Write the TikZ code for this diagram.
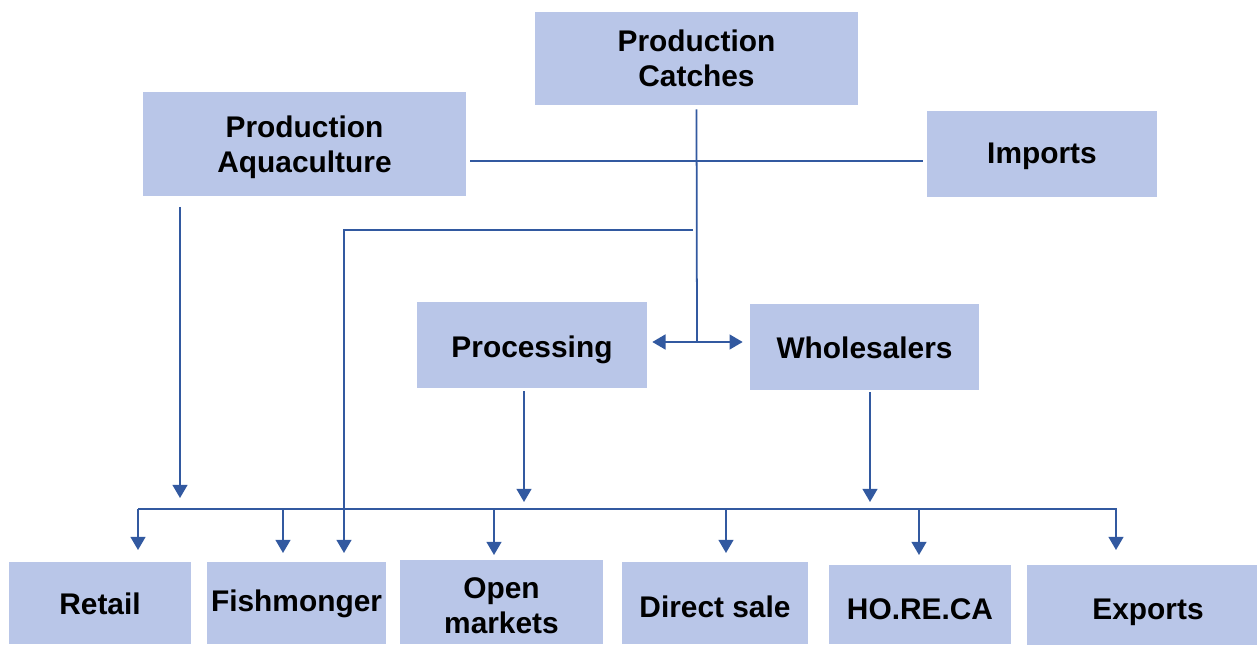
\documentclass[tikz,border=0pt]{standalone}
\usepackage{fontspec}
\setmainfont{Liberation Sans}
\usetikzlibrary{arrows.meta}
\definecolor{boxc}{HTML}{B9C6E8}
\definecolor{linec}{HTML}{3259A0}
\begin{document}
\begin{tikzpicture}[x=0.02cm,y=-0.02cm,
  box/.style={fill=boxc, draw=none, inner sep=0pt},
  lbl/.style={font=\bfseries\fontsize{17}{19.8}\selectfont, align=center, inner sep=0pt},
  conn/.style={draw=linec, line width=1pt},
  arr/.style={conn, -{Triangle[width=8.5pt,length=7.5pt]}},
  darr/.style={conn, {Triangle[width=8.5pt,length=7.5pt]}-{Triangle[width=8.5pt,length=7.5pt]}}]
\useasboundingbox (0,0) rectangle (1258,645);
% boxes
\node[box, minimum width=6.46cm, minimum height=1.86cm] (catch) at (696.5,58.5) {};
\node[box, minimum width=6.46cm, minimum height=2.08cm] (aqua) at (304.5,144) {};
\node[box, minimum width=4.6cm, minimum height=1.72cm] (imp) at (1042,154) {};
\node[box, minimum width=4.6cm, minimum height=1.72cm] (proc) at (532,345) {};
\node[box, minimum width=4.58cm, minimum height=1.72cm] (whole) at (864.5,347) {};
\node[box, minimum width=3.64cm, minimum height=1.64cm] (retail) at (100,603) {};
\node[box, minimum width=3.58cm, minimum height=1.64cm] (fish) at (296.5,603) {};
\node[box, minimum width=4.06cm, minimum height=1.68cm] (open) at (501.5,602) {};
\node[box, minimum width=3.72cm, minimum height=1.64cm] (direct) at (715,603) {};
\node[box, minimum width=3.64cm, minimum height=1.58cm] (horeca) at (920,604.5) {};
\node[box, minimum width=4.6cm, minimum height=1.6cm] (exp) at (1142,605) {};
% texts
\node[lbl] (catchT) at (catch.center) {Production\\Catches};
\node[lbl] (aquaT) at ([yshift=-0.06cm]aqua.center) {Production\\Aquaculture};
\node[lbl] (impT) at ([yshift=-0.04cm]imp.center) {Imports};
\node[lbl] (procT) at ([yshift=-0.09cm]proc.center) {Processing};
\node[lbl] (wholeT) at ([yshift=-0.02cm]whole.center) {Wholesalers};
\node[lbl] (retailT) at ([yshift=-0.02cm]retail.center) {Retail};
\node[lbl] (fishT) at ([yshift=-0.02cm]fish.center) {Fishmonger};
\node[lbl] (openT) at ([yshift=-0.08cm]open.center) {Open\\markets};
\node[lbl] (directT) at ([yshift=-0.08cm]direct.center) {Direct sale};
\node[lbl] (horecaT) at ([yshift=-0.1cm]horeca.center) {HO.RE.CA};
\node[lbl] (expT) at ([xshift=0.12cm,yshift=-0.14cm]exp.center) {Exports};
% junction coordinates
\coordinate (hl) at (697,161);
\coordinate (mid) at (697,342);
\coordinate (fa) at (693,230);
\coordinate (fc) at (344,230);
\coordinate (ft) at (344,553);
\coordinate (aqs) at (180,207);
\coordinate (aqt) at (180,498);
\coordinate (prs) at (524,391);
\coordinate (prt) at (524,502);
\coordinate (whs) at (870,392);
\coordinate (wht) at (870,502);
\coordinate (bL) at (138,509);
\coordinate (bR) at (1116,510);
% connectors
\draw[conn] ([xshift=0.08cm]aqua.east |- hl) -- ([xshift=-0.08cm]imp.west |- hl);
\draw[conn] ([yshift=-0.08cm]catch.south) -- (mid);
\draw[darr] ([xshift=0.1cm]proc.east |- mid) -- ([xshift=-0.14cm]whole.west |- mid);
\draw[arr] (fa) -- (fc) -- (ft);
\draw[arr] (aqs) -- (aqt);
\draw[arr] (prs) -- (prt);
\draw[arr] (whs) -- (wht);
\draw[conn] (bL) -- (1116,509) -- (bR);
\draw[arr] (bL) -- (138,550);
\draw[arr] (283,509) -- (283,553);
\draw[arr] (494,509) -- (494,555);
\draw[arr] (726,509) -- (726,553);
\draw[arr] (919,509) -- (919,555);
\draw[arr] (bR) -- (1116,550);
\end{tikzpicture}
\end{document}
